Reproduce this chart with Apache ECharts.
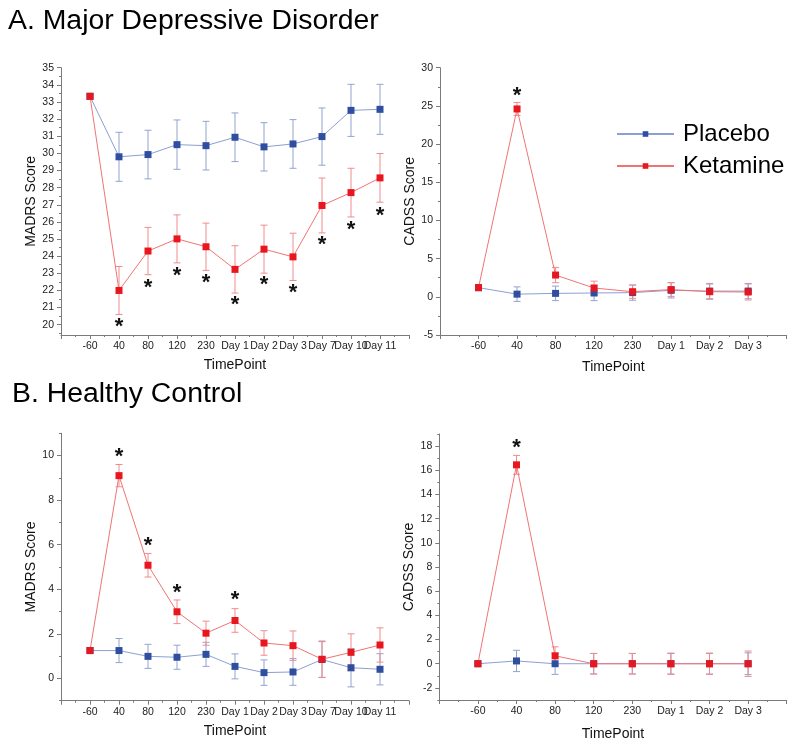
<!DOCTYPE html>
<html><head><meta charset="utf-8">
<script src="https://cdn.jsdelivr.net/npm/echarts@6/dist/echarts.min.js"></script>
<style>html,body{margin:0;padding:0;background:#fff}#c{width:800px;height:746px}</style>
</head><body><div id="c"></div><script>
// ---- categories ----
const mddTimes = ['-60','40','80','120','230','Day 1','Day 2','Day 3','Day 7','Day 10','Day 11'];
const cadssTimes = ['-60','40','80','120','230','Day 1','Day 2','Day 3'];

// ---- A. MDD, MADRS ----
const mddMadrsPlacebo    = [33.33, 29.80, 29.93, 30.51, 30.45, 30.94, 30.38, 30.55, 30.98, 32.51, 32.57];
const mddMadrsPlaceboErr = [0, 1.43, 1.42, 1.44, 1.42, 1.42, 1.41, 1.42, 1.67, 1.52, 1.46];
const mddMadrsKetamine    = [33.33, 22.00, 24.30, 25.01, 24.55, 23.23, 24.41, 23.96, 26.96, 27.71, 28.57];
const mddMadrsKetamineErr = [0, 1.40, 1.38, 1.40, 1.38, 1.38, 1.40, 1.38, 1.60, 1.42, 1.42];
const mddMadrsStars = [[1,20.1],[2,22.37],[3,23.1],[4,22.7],[5,21.36],[6,22.56],[7,22.1],[8,24.9],[9,25.77],[10,26.6]];

// ---- A. MDD, CADSS ----
const mddCadssPlacebo    = [1.2, 0.35, 0.45, 0.5, 0.55, 0.85, 0.75, 0.75];
const mddCadssPlaceboErr = [0, 0.95, 0.95, 1.0, 1.0, 1.0, 1.0, 1.0];
const mddCadssKetamine    = [1.2, 24.6, 2.85, 1.15, 0.67, 0.95, 0.67, 0.63];
const mddCadssKetamineErr = [0, 0.85, 1.0, 0.9, 0.87, 0.9, 1.0, 1.05];
const mddCadssStars = [[1, 26.8]];

// ---- B. HC, MADRS ----
const hcMadrsPlacebo    = [1.25, 1.25, 0.99, 0.95, 1.08, 0.54, 0.26, 0.29, 0.85, 0.48, 0.41];
const hcMadrsPlaceboErr = [0, 0.54, 0.54, 0.54, 0.54, 0.56, 0.57, 0.60, 0.80, 0.86, 0.70];
const hcMadrsKetamine    = [1.25, 9.10, 5.08, 2.99, 2.03, 2.60, 1.59, 1.47, 0.86, 1.17, 1.50];
const hcMadrsKetamineErr = [0, 0.50, 0.53, 0.53, 0.54, 0.53, 0.55, 0.66, 0.82, 0.83, 0.77];
const hcMadrsStars = [[1,10.1],[2,6.14],[3,4.0],[5,3.68]];

// ---- B. HC, CADSS ----
const hcCadssPlacebo    = [0, 0.23, 0, 0, 0, 0, 0, 0];
const hcCadssPlaceboErr = [0, 0.88, 0.88, 0.85, 0.85, 0.85, 0.85, 0.90];
const hcCadssKetamine    = [0, 16.45, 0.65, 0, 0, 0, 0, 0];
const hcCadssKetamineErr = [0, 0.78, 0.75, 0.85, 0.85, 0.88, 0.88, 1.05];
const hcCadssStars = [[1, 18.2]];

// ---- y tick labels ----
const yTicksA1 = [20,21,22,23,24,25,26,27,28,29,30,31,32,33,34,35];
const yTicksA2 = [-5,0,5,10,15,20,25,30];
const yTicksB1 = [0,2,4,6,8,10];
const yTicksB2 = [-2,0,2,4,6,8,10,12,14,16,18];

const FONT = '"Liberation Sans", Arial, sans-serif';
const AXIS_COLOR = '#7a7a7a';
const BLUE = '#2f4ea0', BLUE_LINE = '#8c9fd4', BLUE_ERR = '#93a3d0';
const RED = '#e8161e', RED_LINE = '#f07474', RED_ERR = '#f08c8c';

function minorOf(ticks, lo, hi) {
  const step = ticks[1] - ticks[0];
  const out = [];
  for (let i = 0; i < ticks.length; i++) {
    const a = ticks[i] - step / 2, b = ticks[i] + step / 2;
    if (a >= lo && out.indexOf(a) < 0) out.push(a);
    if (b <= hi && out.indexOf(b) < 0) out.push(b);
  }
  return out;
}

const panels = [
  {left:61, top:67.7, width:348, height:267.3, xmax:11, labels:mddTimes, ymin:19.4, ymax:35, ticks:yTicksA1,
   yname:'MADRS Score', ygap:21, xgap:23,
   p:mddMadrsPlacebo, pe:mddMadrsPlaceboErr, k:mddMadrsKetamine, ke:mddMadrsKetamineErr, stars:mddMadrsStars},
  {left:440, top:67.7, width:346.7, height:267.3, xmax:8, labels:cadssTimes, ymin:-5, ymax:30, ticks:yTicksA2,
   yname:'CADSS Score', ygap:23, xgap:25,
   p:mddCadssPlacebo, pe:mddCadssPlaceboErr, k:mddCadssKetamine, ke:mddCadssKetamineErr, stars:mddCadssStars},
  {left:61, top:433.3, width:348, height:267.4, xmax:11, labels:mddTimes, ymin:-1, ymax:11, ticks:yTicksB1,
   yname:'MADRS Score', ygap:21, xgap:23,
   p:hcMadrsPlacebo, pe:hcMadrsPlaceboErr, k:hcMadrsKetamine, ke:hcMadrsKetamineErr, stars:hcMadrsStars},
  {left:439.3, top:434, width:347.4, height:266, xmax:8, labels:cadssTimes, ymin:-3, ymax:19, ticks:yTicksB2,
   yname:'CADSS Score', ygap:23, xgap:27,
   p:hcCadssPlacebo, pe:hcCadssPlaceboErr, k:hcCadssKetamine, ke:hcCadssKetamineErr, stars:hcCadssStars}
];

function errRender(color) {
  return function (params, api) {
    const x = api.value(0), y = api.value(1), e = api.value(2);
    if (!e) return null;
    const t = api.coord([x, y + e]), b = api.coord([x, y - e]);
    const w = 3.5;
    const style = {stroke: color, lineWidth: 1, fill: null};
    return {type: 'group', children: [
      {type: 'line', shape: {x1: t[0], y1: t[1], x2: b[0], y2: b[1]}, style: style},
      {type: 'line', shape: {x1: t[0] - w, y1: t[1], x2: t[0] + w, y2: t[1]}, style: style},
      {type: 'line', shape: {x1: b[0] - w, y1: b[1], x2: b[0] + w, y2: b[1]}, style: style}
    ]};
  };
}

const grid = [], xAxis = [], yAxis = [], series = [];
panels.forEach(function (P, i) {
  grid.push({left: P.left, top: P.top, width: P.width, height: P.height, containLabel: false});
  const labels = P.labels;
  xAxis.push({
    type: 'value', gridIndex: i, min: -1, max: P.xmax, interval: 1,
    name: 'TimePoint', nameLocation: 'middle', nameGap: P.xgap,
    nameTextStyle: {fontFamily: FONT, fontSize: 14, color: '#111'},
    axisLine: {onZero: false, lineStyle: {color: AXIS_COLOR, width: 1}},
    axisTick: {show: true, length: 4, lineStyle: {color: AXIS_COLOR}},
    minorTick: {show: true, splitNumber: 2, length: 2, lineStyle: {color: AXIS_COLOR}},
    splitLine: {show: false}, minorSplitLine: {show: false},
    axisLabel: {
      margin: 6, fontFamily: FONT, fontSize: 10.5, color: '#222',
      formatter: function (v) { return (Number.isInteger(v) && v >= 0 && v < labels.length) ? labels[v] : ''; }
    }
  });
  yAxis.push({
    type: 'value', gridIndex: i, min: P.ymin, max: P.ymax, position: 'left',
    name: P.yname, nameLocation: 'middle', nameGap: P.ygap, nameRotate: 90,
    nameTextStyle: {fontFamily: FONT, fontSize: 14, color: '#111'},
    axisLine: {show: true, onZero: false, lineStyle: {color: AXIS_COLOR, width: 1}},
    axisTick: {show: true, length: 4, customValues: P.ticks, lineStyle: {color: AXIS_COLOR}},
    axisLabel: {customValues: P.ticks, margin: 7, fontFamily: FONT, fontSize: 10.5, color: '#222'},
    splitLine: {show: false}
  });
});
// minor-tick y axes overlaid on each grid
panels.forEach(function (P, i) {
  yAxis.push({
    type: 'value', gridIndex: i, min: P.ymin, max: P.ymax, position: 'left', offset: 0,
    axisLine: {show: false, onZero: false},
    axisTick: {show: true, length: 2, customValues: minorOf(P.ticks, P.ymin, P.ymax), lineStyle: {color: AXIS_COLOR}},
    axisLabel: {show: false}, splitLine: {show: false}
  });
});

panels.forEach(function (P, i) {
  const errP = P.p.map(function (v, j) { return [j, v, P.pe[j]]; });
  const errK = P.k.map(function (v, j) { return [j, v, P.ke[j]]; });
  series.push({
    name: 'Placebo SEM', type: 'custom', xAxisIndex: i, yAxisIndex: i, z: 1,
    renderItem: errRender(BLUE_ERR), encode: {x: 0, y: 1}, data: errP, silent: true
  });
  series.push({
    name: 'Ketamine SEM', type: 'custom', xAxisIndex: i, yAxisIndex: i, z: 1,
    renderItem: errRender(RED_ERR), encode: {x: 0, y: 1}, data: errK, silent: true
  });
  series.push({
    name: 'Placebo', type: 'line', xAxisIndex: i, yAxisIndex: i, z: 2,
    data: P.p.map(function (v, j) { return [j, v]; }),
    symbol: 'rect', symbolSize: 7, showAllSymbol: true,
    itemStyle: {color: BLUE}, lineStyle: {color: BLUE_LINE, width: 1},
    emphasis: {disabled: true}
  });
  series.push({
    name: 'Ketamine', type: 'line', xAxisIndex: i, yAxisIndex: i, z: 3,
    data: P.k.map(function (v, j) { return [j, v]; }),
    symbol: 'rect', symbolSize: 7, showAllSymbol: true,
    itemStyle: {color: RED}, lineStyle: {color: RED_LINE, width: 1},
    emphasis: {disabled: true}
  });
  series.push({
    name: 'sig', type: 'scatter', xAxisIndex: i, yAxisIndex: i, z: 4,
    data: P.stars, symbolSize: 2, itemStyle: {color: 'rgba(0,0,0,0)'}, silent: true,
    label: {show: true, formatter: '*', position: 'inside', offset: [0, 4],
            fontFamily: FONT, fontSize: 22, fontWeight: 'bold', color: '#111', opacity: 1}
  });
});

const chart = echarts.init(document.getElementById('c'), null, {renderer: 'canvas'});
chart.setOption({
  animation: false,
  backgroundColor: '#ffffff',
  title: [
    {text: 'A. Major Depressive Disorder', left: 3, top: 2,
     textStyle: {fontFamily: FONT, fontSize: 28.4, fontWeight: 'normal', color: '#000'}},
    {text: 'B. Healthy Control', left: 7, top: 375,
     textStyle: {fontFamily: FONT, fontSize: 28.4, fontWeight: 'normal', color: '#000'}}
  ],
  legend: {
    data: ['Placebo', 'Ketamine'], orient: 'vertical', left: 611, top: 117,
    itemWidth: 57, itemHeight: 7, itemGap: 8,
    textStyle: {fontFamily: FONT, fontSize: 24, lineHeight: 24, color: '#000', padding: [0, 0, 0, 4]}
  },
  grid: grid, xAxis: xAxis, yAxis: yAxis, series: series
});
</script></body></html>
